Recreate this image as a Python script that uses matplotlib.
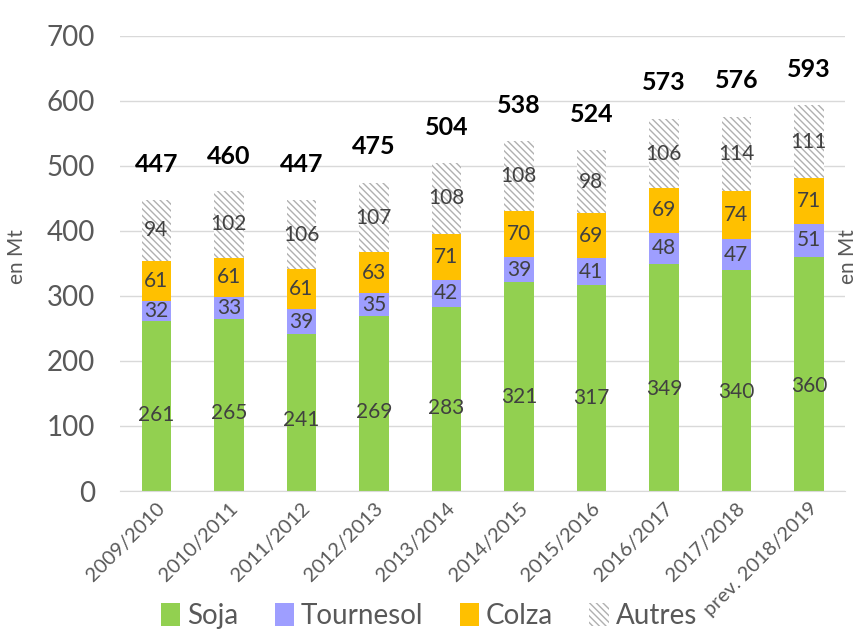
import matplotlib.pyplot as plt
import numpy as np

plt.rcParams['font.family'] = ['Lato', 'DejaVu Sans']
plt.rcParams['hatch.linewidth'] = 1.0

campagnes = ['2009/2010', '2010/2011', '2011/2012', '2012/2013', '2013/2014',
             '2014/2015', '2015/2016', '2016/2017', '2017/2018', 'prev. 2018/2019']
soja = [261, 265, 241, 269, 283, 321, 317, 349, 340, 360]
tournesol = [32, 33, 39, 35, 42, 39, 41, 48, 47, 51]
colza = [61, 61, 61, 63, 71, 70, 69, 69, 74, 71]
autres = [94, 102, 106, 107, 108, 108, 98, 106, 114, 111]
totaux = [447, 460, 447, 475, 504, 538, 524, 573, 576, 593]

fig = plt.figure(figsize=(8.58, 6.41), dpi=100)
ax = fig.add_axes([0.14, 0.234, 0.845, 0.71])

x = np.arange(len(campagnes))
w = 0.41
lab_col = '#404040'

b1 = ax.bar(x, soja, w, color='#92D050', label='Soja', zorder=2)
bas = np.array(soja)
b2 = ax.bar(x, tournesol, w, bottom=bas, color='#9E9EFF', label='Tournesol', zorder=2)
bas = bas + np.array(tournesol)
b3 = ax.bar(x, colza, w, bottom=bas, color='#FFC000', label='Colza', zorder=2)
bas = bas + np.array(colza)
b4 = ax.bar(x, autres, w, bottom=bas, color='white', edgecolor='#B0B0B0',
            hatch='\\\\\\\\\\', linewidth=0, label='Autres', zorder=2)

for i in range(len(x)):
    ax.text(x[i], soja[i] * 0.45, str(soja[i]), ha='center', va='center',
            fontsize=15, color=lab_col, zorder=3)
    ax.text(x[i], soja[i] + tournesol[i] / 2, str(tournesol[i]), ha='center',
            va='center', fontsize=15, color=lab_col, zorder=3)
    ax.text(x[i], soja[i] + tournesol[i] + colza[i] / 2, str(colza[i]),
            ha='center', va='center', fontsize=15, color=lab_col, zorder=3)
    ax.text(x[i], bas[i] + autres[i] / 2, str(autres[i]), ha='center',
            va='center', fontsize=15, color=lab_col, zorder=3)
    ax.text(x[i], totaux[i] + 55, str(totaux[i]), ha='center', va='center',
            fontsize=18, fontweight='bold', color='black', zorder=3)

ax.set_ylim(0, 700)
ax.set_xlim(-0.5, len(x) - 0.5)
ax.set_yticks(range(0, 701, 100))
ax.tick_params(axis='y', labelsize=20, labelcolor='#595959', length=0, pad=18)
ax.set_xticks(x)
ax.set_xticklabels(campagnes, rotation=45, ha='right', rotation_mode='anchor',
                   fontsize=14.5, color='#595959')
ax.tick_params(axis='x', length=0, pad=6)
ax.grid(axis='y', color='#D9D9D9', linewidth=1, zorder=0)
for s in ['top', 'right', 'left']:
    ax.spines[s].set_visible(False)
ax.spines['bottom'].set_color('#D9D9D9')

fig.text(0.02, 0.6, 'en Mt', rotation=90, ha='center', va='center',
         fontsize=15, color='#595959')
fig.text(0.988, 0.6, 'en Mt', rotation=90, ha='center', va='center',
         fontsize=15, color='#595959')

fig.legend(handles=[b1, b2, b3, b4], loc='lower center', ncol=4,
           bbox_to_anchor=(0.5, -0.02), frameon=False, fontsize=20,
           handlelength=0.7, handleheight=0.9, handletextpad=0.25,
           columnspacing=1.3, labelcolor='#595959')

fig.savefig('out.png', dpi=100)
